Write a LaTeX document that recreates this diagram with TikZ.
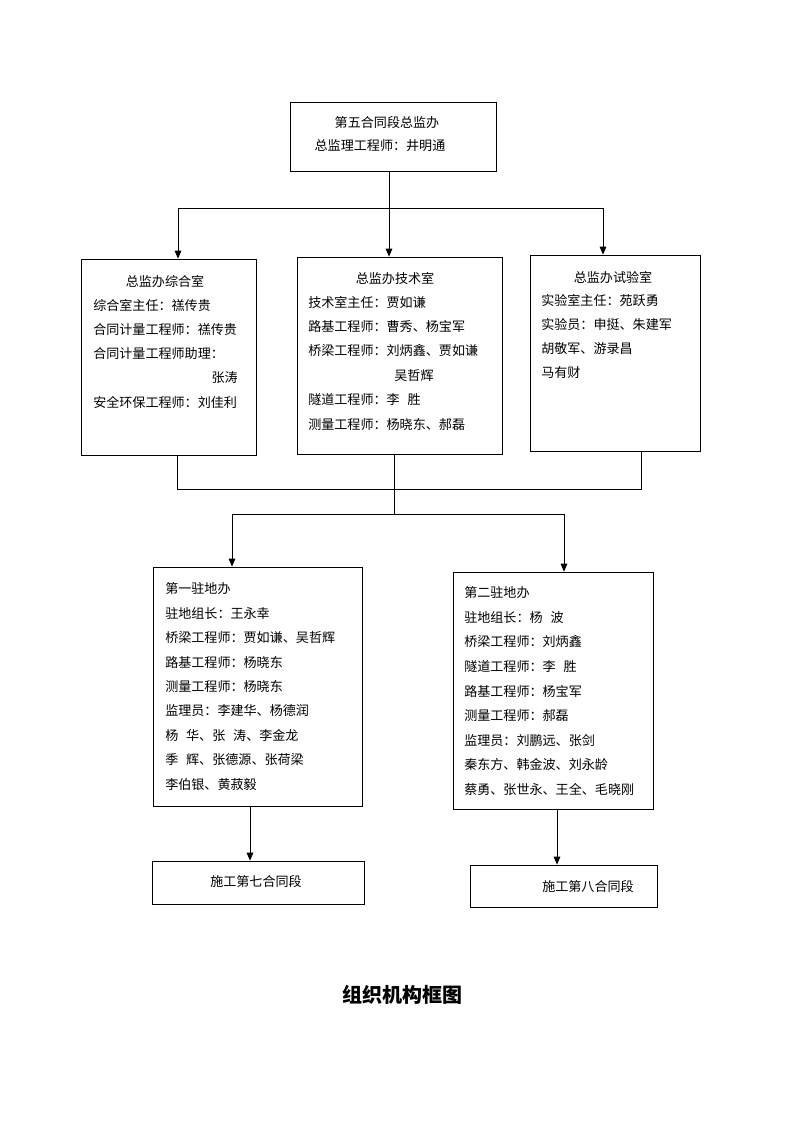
\documentclass[tikz,border=0pt]{standalone}
\usepackage{fontspec}
\newfontfamily\cjk{Noto Sans CJK SC}
\usetikzlibrary{arrows.meta,fit}

\tikzset{
	kuang/.style={draw, line width=0.6pt, inner sep=0pt},
	wenzi/.style={font=\cjk\fontsize{9.8}{12}\selectfont, inner sep=0pt, anchor=west},
	xian/.style={line width=0.6pt},
	jiantou/.style={line width=0.6pt, -{Triangle[length=6pt,width=5pt]}}
}

\begin{document}
\begin{tikzpicture}[x=0.75pt,y=-0.75pt]
			
			\useasboundingbox (0,0) rectangle (800,1132);
			
			% boxes
			\node[kuang, fit={(290,102) (496,171)}] (zjb) {};
			\node[kuang, fit={(81,259) (256,455)}] (zhs) {};
			\node[kuang, fit={(297,257) (502,454)}] (jss) {};
			\node[kuang, fit={(530,255) (700,451)}] (sys) {};
			\node[kuang, fit={(153,567) (362,806)}] (zd1) {};
			\node[kuang, fit={(453,572) (653,809)}] (zd2) {};
			\node[kuang, fit={(152,861) (364,904)}] (sg7) {};
			\node[kuang, fit={(470,865) (657,907)}] (sg8) {};
			
			% top box
			\node[wenzi, anchor=center] (zjb1) at (387,123) {第五合同段总监办};
			\node[wenzi, anchor=center] (zjb2) at (380,146) {总监理工程师：井明通};
			
			% left box
			\node[wenzi, anchor=center] (zhs0) at (165,281) {总监办综合室};
			\node[wenzi] (zhs1) at (93,305) {综合室主任：禚传贵};
			\node[wenzi] (zhs2) at (93,330) {合同计量工程师：禚传贵};
			\node[wenzi] (zhs3) at (93,354) {合同计量工程师助理：};
			\node[wenzi, anchor=east] (zhs4) at (238,378) {张涛};
			\node[wenzi] (zhs5) at (93,402) {安全环保工程师：刘佳利};
			
			% middle box
			\node[wenzi, anchor=center] (jss0) at (395,278) {总监办技术室};
			\node[wenzi] (jss1) at (308,302) {技术室主任：贾如谦};
			\node[wenzi] (jss2) at (308,326.5) {路基工程师：曹秀、杨宝军};
			\node[wenzi] (jss3) at (308,351) {桥梁工程师：刘炳鑫、贾如谦};
			\node[wenzi, anchor=center] (jss4) at (414,375.5) {吴哲辉};
			\node[wenzi] (jss5) at (308,400) {隧道工程师：李\hspace{0.6em}胜};
			\node[wenzi] (jss6) at (308,424.5) {测量工程师：杨晓东、郝磊};
			
			% right box
			\node[wenzi, anchor=center] (sys0) at (613,277) {总监办试验室};
			\node[wenzi] (sys1) at (541,300) {实验室主任：苑跃勇};
			\node[wenzi] (sys2) at (541,324.5) {实验员：申挺、朱建军};
			\node[wenzi] (sys3) at (541,349) {胡敬军、游录昌};
			\node[wenzi] (sys4) at (541,373) {马有财};
			
			% first station
			\node[wenzi] (zd1a) at (165,589) {第一驻地办};
			\node[wenzi] (zd1b) at (165,613.4) {驻地组长：王永幸};
			\node[wenzi] (zd1c) at (165,637.8) {桥梁工程师：贾如谦、吴哲辉};
			\node[wenzi] (zd1d) at (165,662.2) {路基工程师：杨晓东};
			\node[wenzi] (zd1e) at (165,686.6) {测量工程师：杨晓东};
			\node[wenzi] (zd1f) at (165,711) {监理员：李建华、杨德润};
			\node[wenzi] (zd1g) at (165,735.4) {杨\hspace{0.6em}华、张\hspace{0.6em}涛、李金龙};
			\node[wenzi] (zd1h) at (165,759.8) {季\hspace{0.6em}辉、张德源、张荷梁};
			\node[wenzi] (zd1i) at (165,784.2) {李伯银、黄菽毅};
			
			% second station
			\node[wenzi] (zd2a) at (464,593) {第二驻地办};
			\node[wenzi] (zd2b) at (464,617.5) {驻地组长：杨\hspace{0.6em}波};
			\node[wenzi] (zd2c) at (464,642) {桥梁工程师：刘炳鑫};
			\node[wenzi] (zd2d) at (464,666.5) {隧道工程师：李\hspace{0.6em}胜};
			\node[wenzi] (zd2e) at (464,691) {路基工程师：杨宝军};
			\node[wenzi] (zd2f) at (464,715.5) {测量工程师：郝磊};
			\node[wenzi] (zd2g) at (464,740) {监理员：刘鹏远、张剑};
			\node[wenzi] (zd2h) at (464,764.5) {秦东方、韩金波、刘永龄};
			\node[wenzi] (zd2i) at (464,789) {蔡勇、张世永、王全、毛晓刚};
			
			\node[wenzi, anchor=center] (sg7t) at (256,882) {施工第七合同段};
			\node[wenzi, anchor=center] (sg8t) at (588,887) {施工第八合同段};
			
			% upper lines
			\coordinate (fenL) at (178,208);
			\coordinate (fenM) at (389,208);
			\coordinate (fenR) at (603,208);
			\draw[jiantou] (fenM |- zjb.south) -- (fenM |- jss.north);
			\draw[xian] (fenL) -- (fenR);
			\draw[jiantou] (fenL) -- (fenL |- zhs.north);
			\draw[jiantou] (fenR) -- (fenR |- sys.north);
			
			% lower lines
			\coordinate (huiL) at (177,489);
			\coordinate (huiM) at (394,489);
			\coordinate (huiR) at (641,489);
			\coordinate (xiaL) at (232,514);
			\coordinate (xiaM) at (394,514);
			\coordinate (xiaR) at (564,514);
			\draw[xian] (huiL |- zhs.south) -- (huiL) -- (huiR) -- (huiR |- sys.south);
			\draw[xian] (huiM |- jss.south) -- (xiaM);
			\draw[xian] (xiaL) -- (xiaR);
			\draw[jiantou] (xiaL) -- (xiaL |- zd1.north);
			\draw[jiantou] (xiaR) -- (xiaR |- zd2.north);
			
			% to the contract sections
			\coordinate (sgL) at (250,830);
			\coordinate (sgR) at (557,830);
			\draw[jiantou] (sgL |- zd1.south) -- (sgL |- sg7.north);
			\draw[jiantou] (sgR |- zd2.south) -- (sgR |- sg8.north);
			
			\node[font=\cjk\bfseries\fontsize{15}{18}\selectfont, inner sep=0pt] (biaoti) at (402,995) {组织机构框图};
			
		\end{tikzpicture}
\end{document}
